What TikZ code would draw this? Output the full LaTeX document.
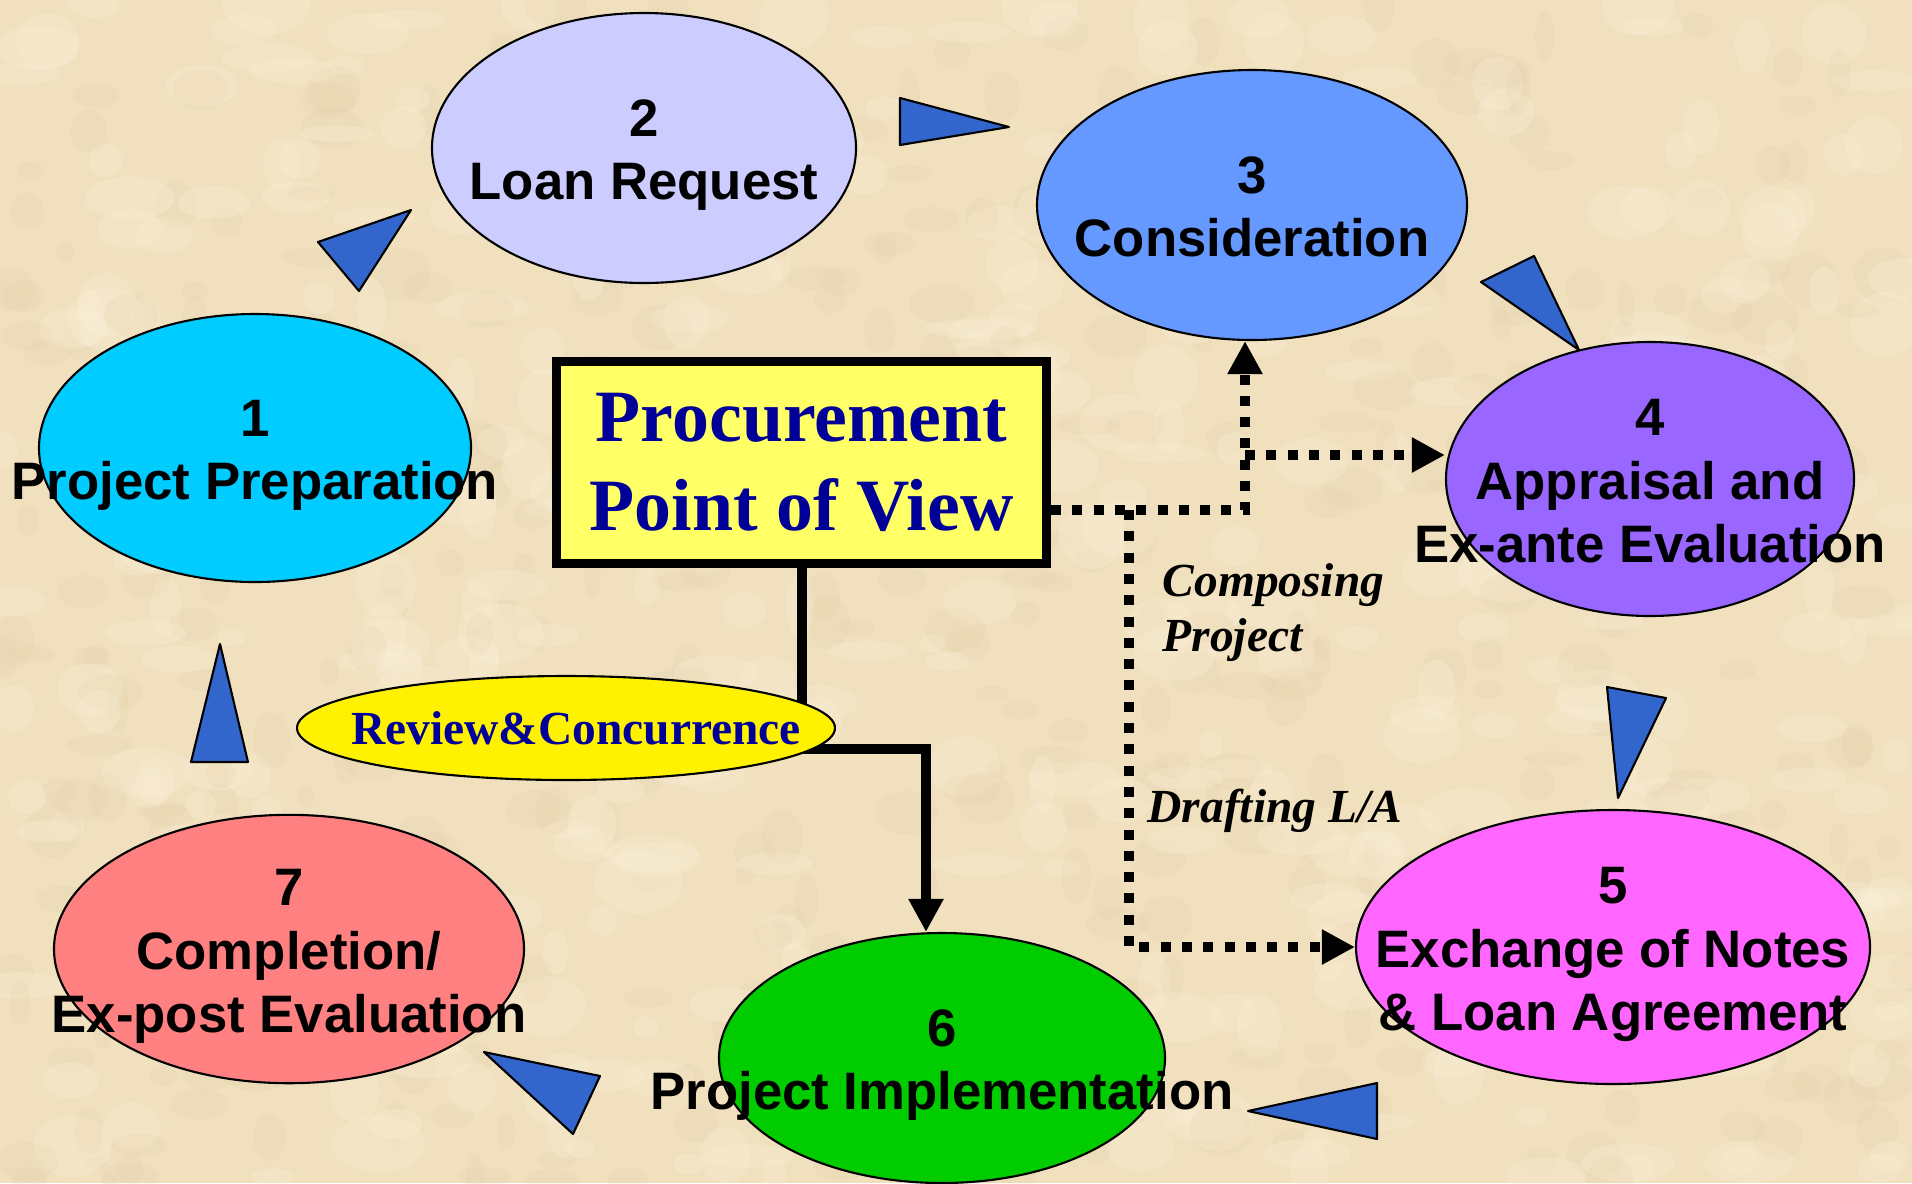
\documentclass[tikz,border=0pt]{standalone}
\usepackage{fontspec}
\setmainfont{Liberation Serif}
\newfontfamily\stagefont{Liberation Sans}
\usetikzlibrary{arrows.meta,shapes.geometric}
\definecolor{parch}{HTML}{F0E0BE}
\definecolor{parchlight}{HTML}{FAF0D8}
\definecolor{parchdark}{HTML}{E0C9A2}
\definecolor{flowblue}{HTML}{3366CC}
\definecolor{povblue}{HTML}{000099}
\definecolor{povyellow}{HTML}{FFFF66}
\definecolor{prep}{HTML}{00CCFF}
\definecolor{request}{HTML}{CCCCFF}
\definecolor{consid}{HTML}{6699FF}
\definecolor{apprais}{HTML}{9966FF}
\definecolor{exchange}{HTML}{FF66FF}
\definecolor{implem}{HTML}{00CC00}
\definecolor{complet}{HTML}{FF8080}
\newcommand\stg[2]{\raisebox{-.75mm}[\height][\depth]{\makebox[0pt]{\begin{tabular}{@{}c@{}}#1\\#2\end{tabular}}}}

\begin{document}
\begin{tikzpicture}[
    stage/.style={ellipse,draw,line width=.6pt,inner sep=0pt,
      font=\stagefont\bfseries\fontsize{15}{18}\selectfont},
    dotline/.style={line width=1mm,dash pattern=on 1mm off 1.13mm},
    solidline/.style={line width=1mm},
    tip/.style={-{Triangle[length=3.3mm,width=3.3mm]}},
    flowtip/.style={fill=flowblue,draw=black,line width=.6pt,line join=round},
    remark/.style={anchor=base west,inner sep=0pt,
      font=\bfseries\itshape\fontsize{13.5}{16}\selectfont}]
  \fill[parch] (0,0) rectangle (19.12,-11.83);
  % mottled paper
  \pgfmathsetseed{42}
  \begin{scope}
    \clip (0,0) rectangle (19.12,-11.83);
    \foreach \i in {1,...,420}{
      \pgfmathsetmacro\px{rnd*19.12}
      \pgfmathsetmacro\py{-rnd*11.83}
      \pgfmathsetmacro\rx{.12+rnd*.35}
      \pgfmathsetmacro\ry{.08+rnd*.25}
      \fill[parchlight,opacity=.3] (\px,\py) ellipse ({\rx} and {\ry});
      \pgfmathsetmacro\qx{rnd*19.12}
      \pgfmathsetmacro\qy{-rnd*11.83}
      \fill[parchdark,opacity=.14] (\qx,\qy) ellipse ({\ry} and {\rx*.6});
    }
  \end{scope}
  \useasboundingbox (0,0) rectangle (19.12,-11.83);

  \node[stage,fill=prep,minimum width=4.32cm,minimum height=2.68cm] (prep) at (2.55,-4.48) {\stg{1}{Project Preparation}};
  \node[stage,fill=request,minimum width=4.24cm,minimum height=2.70cm] (request) at (6.44,-1.48) {\stg{2}{Loan Request}};
  \node[stage,fill=consid,minimum width=4.30cm,minimum height=2.70cm] (consid) at (12.52,-2.05) {\stg{3}{Consideration}};
  \node[stage,fill=apprais,minimum width=4.08cm,minimum height=2.74cm] (apprais) at (16.50,-4.79) {\stg{4}{Appraisal and\\Ex-ante Evaluation}};
  \node[stage,fill=exchange,minimum width=5.14cm,minimum height=2.74cm] (exchange) at (16.13,-9.47) {\stg{5}{Exchange of Notes\\\& Loan Agreement}};
  \node[stage,fill=implem,minimum width=4.46cm,minimum height=2.50cm] (implem) at (9.42,-10.58) {\stg{6}{Project Implementation}};
  \node[stage,fill=complet,minimum width=4.70cm,minimum height=2.42cm] (complet) at (2.89,-9.49) {\stg{7}{Completion/\\Ex-post Evaluation}};

  \foreach \ax/\ay/\bx/\by/\cx/\cy in {3.18/-2.42/4.11/-2.10/3.59/-2.91,
      9.00/-0.98/9.00/-1.45/10.09/-1.27, 14.81/-2.82/15.34/-2.56/15.79/-3.50,
      16.07/-6.87/16.66/-6.98/16.18/-7.98, 13.77/-10.83/13.77/-11.39/12.48/-11.11,
      6.00/-10.76/5.73/-11.34/4.84/-10.52, 1.91/-7.62/2.48/-7.62/2.20/-6.44}
    \filldraw[flowtip] (\ax,\ay) -- (\bx,\by) -- (\cx,\cy) -- cycle;

  \node[draw,line width=.9mm,fill=povyellow,minimum width=4.90cm,minimum height=2.02cm,
    align=center,text=povblue,font=\bfseries\fontsize{21}{25.3}\selectfont] (pov) at (8.015,-4.625) {Procurement\\Point of View};

  \coordinate (bend) at (9.26,-7.49);
  \draw[solidline,tip] (pov.south) |- (bend) -- (bend |- implem.north);

  \coordinate (d1) at (12.45,-5.10);
  \coordinate (d2) at (12.45,-4.55);
  \coordinate (d3) at (11.29,-5.10);
  \draw[dotline,tip] (pov.east |- d1) -- (d1) -- (d1 |- consid.south);
  \draw[dotline,tip] (d2) -- (d2 -| apprais.west);
  \draw[dotline,tip] (d3) |- (exchange.west);

  \node[ellipse,draw,line width=.6pt,fill=yellow,minimum width=5.38cm,minimum height=1.04cm,inner sep=0pt,
    text=povblue,font=\bfseries\fontsize{13.5}{16}\selectfont] (review) at (5.66,-7.28) {\makebox[0pt]{\hspace*{2mm}Review\&Concurrence}};

  \node[remark] (compose) at (11.62,-5.96) {Composing};
  \node[remark] (project) at (11.62,-6.51) {Project};
  \node[remark] (drafting) at (11.47,-8.22) {Drafting L/A};
\end{tikzpicture}
\end{document}
